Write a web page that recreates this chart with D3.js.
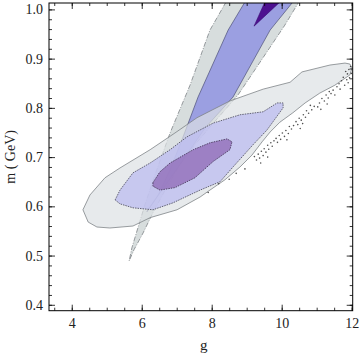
<!DOCTYPE html>
<html>
<head>
<meta charset="utf-8">
<script src="https://cdn.jsdelivr.net/npm/d3@7"></script>
<style>
  body { margin: 0; background: #fff; }
  text { font-family: "Liberation Serif", "DejaVu Serif", serif; fill: #222; }
</style>
</head>
<body>
<div id="chart"></div>
<script>
// contour regions as [g, m]
// narrow band (outer 2-sigma, inner 1-sigma, core)
var bandOuter = [
  [8.41, 1.015], [7.95, 0.958], [7.38, 0.846], [6.81, 0.749], [6.38, 0.664],
  [6.09, 0.603], [5.89, 0.556], [5.72, 0.516], [5.64, 0.489],
  [5.78, 0.512], [6.04, 0.546], [6.32, 0.587], [6.67, 0.633], [7.09, 0.684],
  [7.52, 0.725], [7.95, 0.761], [8.75, 0.826], [9.61, 0.917], [10.09, 0.968], [10.49, 1.015]
];
var bandInner = [
  [8.95, 1.015], [8.47, 0.958], [7.61, 0.822], [7.15, 0.735], [6.81, 0.674],
  [6.47, 0.623], [6.18, 0.593], [6.15, 0.589],
  [6.44, 0.619], [6.95, 0.670], [7.38, 0.715], [7.81, 0.759], [8.61, 0.822],
  [9.67, 0.958], [10.32, 1.015]
];
var bandCore = [[9.52, 1.015], [9.21, 0.966], [9.95, 1.015]];

// broad ellipse
var ellOuter = [
  [4.32, 0.593], [4.52, 0.623], [4.95, 0.658], [5.38, 0.678], [6.24, 0.715],
  [6.95, 0.749], [7.58, 0.780], [8.52, 0.814], [9.47, 0.838], [10.24, 0.852],
  [10.58, 0.873], [11.38, 0.887], [11.81, 0.891], [11.95, 0.889], [12.01, 0.881],
  [11.95, 0.867], [11.52, 0.846], [11.09, 0.830], [10.67, 0.810], [10.32, 0.790],
  [9.95, 0.771], [9.67, 0.751], [9.44, 0.731], [9.15, 0.704], [8.81, 0.680],
  [8.38, 0.654], [7.95, 0.633], [7.67, 0.619], [7.01, 0.593], [6.24, 0.577],
  [5.75, 0.560], [5.09, 0.556], [4.72, 0.558], [4.47, 0.568]
];
var ellMid = [
  [5.24, 0.613], [5.38, 0.633], [5.75, 0.668], [6.24, 0.688], [6.81, 0.715],
  [7.29, 0.741], [8.04, 0.769], [8.81, 0.786], [9.47, 0.792], [9.87, 0.810],
  [10.04, 0.810], [10.04, 0.800], [9.58, 0.755], [9.18, 0.725], [8.61, 0.680],
  [8.24, 0.650], [7.67, 0.633], [6.89, 0.607], [6.32, 0.593], [5.75, 0.597], [5.38, 0.605]
];
var ellCore = [
  [6.32, 0.648], [6.52, 0.670], [6.81, 0.688], [7.47, 0.715], [7.95, 0.729],
  [8.44, 0.737], [8.58, 0.731], [8.52, 0.715], [8.04, 0.691], [7.52, 0.658],
  [6.95, 0.638], [6.52, 0.633], [6.32, 0.641]
];

// loose sample points along the lower right edge of the ellipse
var edgePoints = [
  [11.97, 0.884], [11.92, 0.878], [11.99, 0.87], [11.88, 0.869], [11.94, 0.861], [11.83, 0.874],
  [11.86, 0.857], [11.76, 0.862], [11.71, 0.855], [11.9, 0.851], [11.64, 0.849], [11.8, 0.846],
  [11.58, 0.843], [11.67, 0.838],
  [11.47, 0.836], [11.41, 0.829], [11.52, 0.826], [11.36, 0.833], [11.33, 0.82], [11.27, 0.826],
  [11.22, 0.814], [11.15, 0.819], [11.3, 0.808], [11.08, 0.81], [11.03, 0.802], [11.12, 0.797],
  [10.93, 0.803], [10.86, 0.796], [10.82, 0.805], [10.77, 0.789], [10.71, 0.794], [10.68, 0.781],
  [10.62, 0.786], [10.56, 0.775], [10.6, 0.768], [10.5, 0.779], [10.46, 0.766], [10.41, 0.772],
  [10.53, 0.758],
  [10.34, 0.764], [10.28, 0.757], [10.22, 0.762], [10.19, 0.748], [10.12, 0.754], [10.08, 0.742],
  [10.02, 0.749], [9.97, 0.736], [9.93, 0.744], [9.88, 0.73], [9.84, 0.738], [10.15, 0.735],
  [9.78, 0.733], [9.73, 0.722], [9.69, 0.729], [9.63, 0.716], [9.6, 0.724], [9.55, 0.71],
  [9.5, 0.717], [9.47, 0.703], [9.42, 0.712], [9.37, 0.698], [9.33, 0.706], [9.28, 0.694],
  [9.22, 0.701], [9.6, 0.7], [9.4, 0.688],
  [8.95, 0.676], [8.7, 0.667], [8.5, 0.655], [8.2, 0.646], [7.9, 0.628]
];

var xTicks = [4, 6, 8, 10, 12];
var yTicks = [0.4, 0.5, 0.6, 0.7, 0.8, 0.9, 1.0];

var margin = { top: 3, right: 7.3, bottom: 44.3, left: 49 };
var width = 360 - margin.left - margin.right;
var height = 355 - margin.top - margin.bottom;

var svg = d3.select('#chart').append('svg')
    .attr('width', 360)
    .attr('height', 355);

var g = svg.append('g')
    .attr('transform', 'translate(' + margin.left + ',' + margin.top + ')');

var x = d3.scaleLinear().domain([3.35, 12.03]).range([0, width]);
var y = d3.scaleLinear().domain([0.388, 1.013]).range([height, 0]);

svg.append('defs').append('clipPath').attr('id', 'plot')
  .append('rect').attr('width', width).attr('height', height);

var area = d3.line()
    .x(function(d) { return x(d[0]); })
    .y(function(d) { return y(d[1]); })
    .curve(d3.curveLinearClosed);

var plot = g.append('g').attr('clip-path', 'url(#plot)');

function region(pts, fill, op, stroke, dash, sw) {
  plot.append('path')
    .attr('d', area(pts))
    .attr('fill', fill)
    .attr('fill-opacity', op)
    .attr('stroke', stroke)
    .attr('stroke-width', sw || 0.8)
    .attr('stroke-dasharray', dash)
    .attr('stroke-linejoin', 'round');
}

// band
region(bandOuter, '#c9d1d2', 0.75, '#7d8386', '5,1.5,1,1.5', 0.8);
region(bandInner, '#8c90e2', 0.8, '#4e5078', null, 0.7);
region(bandCore, '#4d1090', 1, '#3a0a70', null, 0.6);

// ellipse
region(ellOuter, '#dde1e4', 0.7, '#7f8488', null, 0.8);
region(ellMid, '#bcbcf0', 0.75, '#555566', '1.5,1', 0.9);
region(ellCore, '#8f68b6', 0.75, '#4a3a5e', '1.5,1', 0.9);

plot.append('g').selectAll('circle')
  .data(edgePoints)
  .enter().append('circle')
  .attr('cx', function(d) { return x(d[0]); })
  .attr('cy', function(d) { return y(d[1]); })
  .attr('r', 0.8)
  .attr('fill', '#333')
  .attr('fill-opacity', 0.85);

// frame and ticks (inward on all four sides)
function minor(lo, hi, step) {
  var out = [];
  for (var v = lo; v <= hi + 1e-9; v += step) out.push(+v.toFixed(3));
  return out;
}
var xMinor = minor(3.5, 12, 0.5);
var yMinor = minor(0.4, 1.0, 0.02);

function axisStyle(sel) {
  sel.select('.domain').remove();
  sel.selectAll('line').attr('stroke', '#000').attr('stroke-width', 0.8);
  sel.selectAll('text').style('font-size', '14px').attr('fill', '#222');
}

g.append('g').attr('transform', 'translate(0,' + height + ')')
  .call(d3.axisBottom(x).tickValues(xMinor).tickSize(-3).tickFormat('')).call(axisStyle);
g.append('g').attr('transform', 'translate(0,' + height + ')')
  .call(d3.axisBottom(x).tickValues(xTicks).tickSize(-6).tickPadding(7).tickFormat(d3.format('d'))).call(axisStyle);
g.append('g')
  .call(d3.axisTop(x).tickValues(xMinor).tickSize(-3).tickFormat('')).call(axisStyle);
g.append('g')
  .call(d3.axisTop(x).tickValues(xTicks).tickSize(-6).tickFormat('')).call(axisStyle);

g.append('g')
  .call(d3.axisLeft(y).tickValues(yMinor).tickSize(-3).tickFormat('')).call(axisStyle);
g.append('g')
  .call(d3.axisLeft(y).tickValues(yTicks).tickSize(-6).tickPadding(6).tickFormat(d3.format('.1f'))).call(axisStyle);
g.append('g').attr('transform', 'translate(' + width + ',0)')
  .call(d3.axisRight(y).tickValues(yMinor).tickSize(-3).tickFormat('')).call(axisStyle);
g.append('g').attr('transform', 'translate(' + width + ',0)')
  .call(d3.axisRight(y).tickValues(yTicks).tickSize(-6).tickFormat('')).call(axisStyle);

g.append('rect')
  .attr('width', width).attr('height', height)
  .attr('fill', 'none').attr('stroke', '#000').attr('stroke-width', 1);

// axis titles
g.append('text')
  .attr('x', width / 2 + 3).attr('y', height + 39)
  .attr('text-anchor', 'middle')
  .style('font-size', '15px')
  .text('g');

g.append('text')
  .attr('transform', 'translate(' + (-34) + ',' + (height / 2) + ') rotate(-90)')
  .attr('text-anchor', 'middle')
  .style('font-size', '14px')
  .text('m ( GeV)');
</script>
</body>
</html>
